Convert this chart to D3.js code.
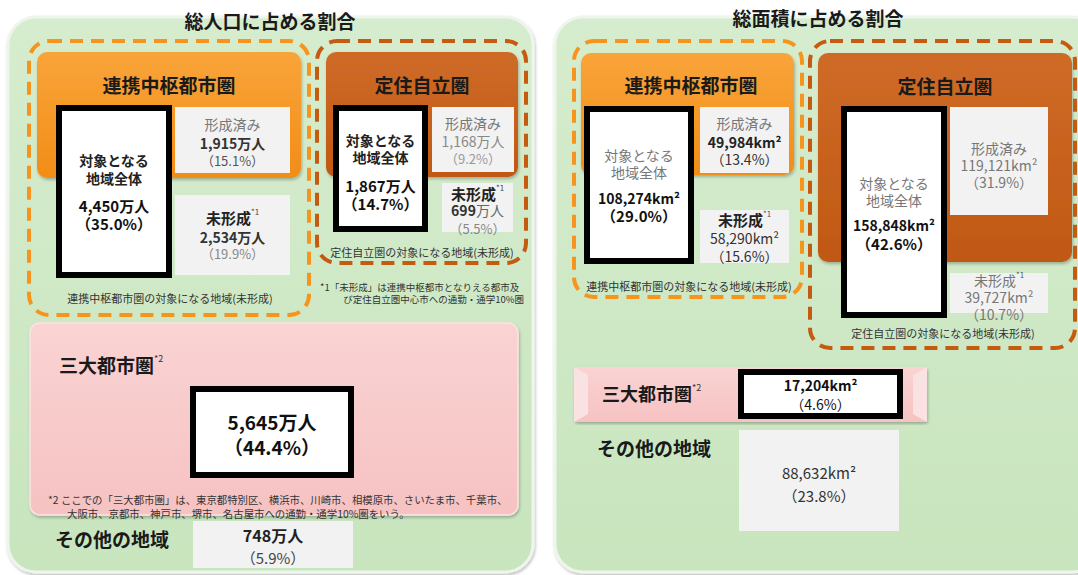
<!doctype html>
<html lang="ja">
<head>
<meta charset="utf-8" />
<title>総人口・総面積に占める割合</title>
<script src="https://cdn.jsdelivr.net/npm/d3@7"></script>
<style>
  html, body { margin: 0; padding: 0; background: #fff; }
  svg { display: block; font-family: "Noto Sans CJK JP", "Noto Sans", sans-serif; }
</style>
</head>
<body>
<div id="chart"></div>
<script>
// ---- data ----
var panelTitles = ["総人口に占める割合", "総面積に占める割合"];
var regionNames = ["連携中枢都市圏", "定住自立圏"];
// population, 万人 / %
var popTotal = [4450, 1867];
var popTotalPct = [35.0, 14.7];
var popFormed = [1915, 1168];
var popFormedPct = [15.1, 9.2];
var popUnformed = [2534, 699];
var popUnformedPct = [19.9, 5.5];
var popMetro = [5645], popMetroPct = [44.4];
var popOther = [748], popOtherPct = [5.9];
// area, km2 / %
var areaTotal = [108274, 158848];
var areaTotalPct = [29.0, 42.6];
var areaFormed = [49984, 119121];
var areaFormedPct = [13.4, 31.9];
var areaUnformed = [58290, 39727];
var areaUnformedPct = [15.6, 10.7];
var areaMetro = [17204], areaMetroPct = [4.6];
var areaOther = [88632], areaOtherPct = [23.8];

var captions = ["連携中枢都市圏の対象になる地域(未形成)", "定住自立圏の対象になる地域(未形成)"];
var note1 = ["*1「未形成」は連携中枢都市となりえる都市及", "び定住自立圏中心市への通勤・通学10%圏"];
var note2 = ["*2 ここでの「三大都市圏」は、東京都特別区、横浜市、川崎市、相模原市、さいたま市、千葉市、",
             "大阪市、京都市、神戸市、堺市、名古屋市への通勤・通学10%圏をいう。"];

var fmtN = d3.format(",");
function pct(v) { return "（" + d3.format(".1f")(v) + "%）"; }

var W = 1078, H = 575;
var svg = d3.select("#chart").append("svg").attr("width", W).attr("height", H);
var defs = svg.append("defs");

function grad(id, c1, c2) {
  var g = defs.append("linearGradient").attr("id", id).attr("x1", 0).attr("y1", 0).attr("x2", 0).attr("y2", 1);
  g.append("stop").attr("offset", "0%").attr("stop-color", c1);
  g.append("stop").attr("offset", "100%").attr("stop-color", c2);
}
grad("gPanel", "#d6ecce", "#c8e5be");
grad("gOrange", "#f9a43a", "#f28d17");
grad("gDark", "#cf6b28", "#c05813");
grad("gPink", "#fad3d3", "#f6c2c2");
var sh = defs.append("filter").attr("id", "shadow").attr("x", "-5%").attr("y", "-5%").attr("width", "110%").attr("height", "110%");
sh.append("feDropShadow").attr("dx", 1).attr("dy", 2).attr("stdDeviation", 1.5).attr("flood-color", "#000").attr("flood-opacity", 0.25);

// ---- helpers ----
function S(t, size, weight, fill, sup) { return { t: t, s: size, w: weight, c: fill, sup: sup }; }

function textLine(g, x, y, parts, anchor) {
  var t = g.append("text").attr("x", x).attr("y", y)
    .attr("text-anchor", anchor || "middle").attr("dominant-baseline", "central");
  parts.forEach(function (p) {
    var s = t.append("tspan").text(p.t).attr("font-size", p.s).attr("font-weight", p.w).attr("fill", p.c);
    if (p.sup) s.attr("dy", -6);
  });
  return t;
}

function rectBox(g, b, fill, stroke, sw, rx) {
  var inset = sw ? sw / 2 : 0;
  return g.append("rect")
    .attr("x", b.x + inset).attr("y", b.y + inset)
    .attr("width", b.w - 2 * inset).attr("height", b.h - 2 * inset)
    .attr("rx", rx || 0)
    .attr("fill", fill).attr("stroke", stroke || "none").attr("stroke-width", sw || 0);
}

function boxWithLines(g, b, lines, fill, stroke, sw) {
  rectBox(g, b, fill, stroke, sw, 0);
  var cx = b.x + b.w / 2;
  lines.forEach(function (l) { textLine(g, cx, l.y, l.parts); });
}

var ORANGE = "#f7941d", DARK = "#c55a11", GRAY = "#f2f2f2";

// ---- layouts ----
var layouts = [
  { // population panel
    panel: { x: 8, y: 17, w: 525, h: 555 }, title: { x: 270, y: 20 },
    dash: [{ x: 29, y: 41, w: 280, h: 274 }, { x: 317, y: 41, w: 209, h: 222 }],
    fill: [{ x: 37, y: 52, w: 264, h: 126 }, { x: 326, y: 52, w: 192, h: 125 }],
    head: [{ x: 169, y: 84 }, { x: 422, y: 84 }],
    white: [{ x: 56, y: 105, w: 116, h: 173, ly: [160, 178, 205, 223] },
            { x: 333, y: 105, w: 95, h: 127, ly: [140, 157, 185, 203] }],
    formed: [{ x: 175, y: 107, w: 115, h: 66, ly: [124, 143, 160] },
             { x: 432, y: 107, w: 82, h: 65, ly: [123, 141, 158] }],
    unformed: [{ x: 175, y: 195, w: 115, h: 80, ly: [217, 237, 253] },
               { x: 442, y: 183, w: 71, h: 49, ly: [193, 210, 228] }],
    cap: [{ x: 170, y: 298 }, { x: 422, y: 252 }]
  },
  { // area panel
    panel: { x: 555, y: 17, w: 545, h: 555 }, title: { x: 818, y: 17 },
    dash: [{ x: 574, y: 41, w: 228, h: 256 }, { x: 810, y: 41, w: 265, h: 307 }],
    fill: [{ x: 581, y: 53, w: 213, h: 122 }, { x: 818, y: 53, w: 254, h: 209 }],
    head: [{ x: 691, y: 84 }, { x: 945, y: 85 }],
    white: [{ x: 584, y: 106, w: 110, h: 158, ly: [155, 172, 198, 215] },
            { x: 841, y: 106, w: 106, h: 212, ly: [183, 200, 225, 243] }],
    formed: [{ x: 700, y: 107, w: 89, h: 66, ly: [123, 142, 159] },
             { x: 950, y: 107, w: 98, h: 108, ly: [148, 165, 182] }],
    unformed: [{ x: 700, y: 210, w: 89, h: 53, ly: [219, 238, 256] },
               { x: 950, y: 273, w: 98, h: 40, ly: [280, 297, 314] }],
    cap: [{ x: 689, y: 286 }, { x: 943, y: 333 }]
  }
];

// ---- panels ----
layouts.forEach(function (L, p) {
  var g = svg.append("g");
  g.append("rect").attr("x", L.panel.x).attr("y", L.panel.y).attr("width", L.panel.w).attr("height", L.panel.h)
    .attr("rx", 28).attr("fill", "url(#gPanel)").attr("stroke", "#eef5ec").attr("stroke-width", 3)
    .attr("filter", "url(#shadow)");
  textLine(g, L.title.x, L.title.y, [S(panelTitles[p], 19, 700, "#1a1a1a")]);

  [0, 1].forEach(function (i) {
    var col = i === 0 ? ORANGE : DARK;
    var f = L.fill[i];
    g.append("rect").attr("x", f.x).attr("y", f.y).attr("width", f.w).attr("height", f.h).attr("rx", 10)
      .attr("fill", i === 0 ? "url(#gOrange)" : "url(#gDark)").attr("filter", "url(#shadow)");
    textLine(g, L.head[i].x, L.head[i].y, [S(regionNames[i], 19, 700, "#1a1a1a")]);

    var d = L.dash[i];
    g.append("rect").attr("x", d.x).attr("y", d.y).attr("width", d.w).attr("height", d.h).attr("rx", 20)
      .attr("fill", "none").attr("stroke", col).attr("stroke-width", 4).attr("stroke-dasharray", "13 8");
    textLine(g, L.cap[i].x, L.cap[i].y, [S(captions[i], 11, 400, "#333")]);
  });
});

// population boxes
(function () {
  var L = layouts[0], g = svg.append("g");
  [0, 1].forEach(function (i) {
    var b = L.white[i];
    boxWithLines(g, b, [
      { y: b.ly[0], parts: [S("対象となる", 14, 700, "#222")] },
      { y: b.ly[1], parts: [S("地域全体", 14, 700, "#222")] },
      { y: b.ly[2], parts: [S(fmtN(popTotal[i]) + "万人", 15, 700, "#111")] },
      { y: b.ly[3], parts: [S(pct(popTotalPct[i]), 15, 700, "#111")] }
    ], "#fff", "#000", 6);
    var light = i === 1;
    b = L.formed[i];
    boxWithLines(g, b, [
      { y: b.ly[0], parts: [S("形成済み", 14, 400, "#777")] },
      { y: b.ly[1], parts: [S(fmtN(popFormed[i]) + "万人", 14, light ? 400 : 700, light ? "#888" : "#333")] },
      { y: b.ly[2], parts: [S(pct(popFormedPct[i]), 13, 400, light ? "#999" : "#555")] }
    ], GRAY);
    b = L.unformed[i];
    boxWithLines(g, b, [
      { y: b.ly[0], parts: [S("未形成", 15, 700, "#222"), S("*1", 8, 400, "#444", true)] },
      { y: b.ly[1], parts: light ? [S(fmtN(popUnformed[i]), 14, 700, "#333"), S("万人", 14, 400, "#666")]
                                 : [S(fmtN(popUnformed[i]) + "万人", 14, 700, "#333")] },
      { y: b.ly[2], parts: [S(pct(popUnformedPct[i]), 13, 400, "#888")] }
    ], GRAY);
  });

  textLine(g, 320, 287, [S(note1[0], 9.5, 400, "#333")], "start");
  textLine(g, 524, 299, [S(note1[1], 9.5, 400, "#333")], "end");

  // 三大都市圏
  var pk = { x: 30, y: 323, w: 488, h: 192 };
  g.append("rect").attr("x", pk.x).attr("y", pk.y).attr("width", pk.w).attr("height", pk.h).attr("rx", 10)
    .attr("fill", "url(#gPink)").attr("stroke", "#fbe3e3").attr("stroke-width", 1.5).attr("filter", "url(#shadow)");
  textLine(g, 59, 364, [S("三大都市圏", 19, 700, "#1a1a1a"), S("*2", 9, 400, "#333", true)], "start");
  var mb = { x: 190, y: 386, w: 164, h: 92 };
  rectBox(g, mb, "#fff", "#000", 6);
  textLine(g, mb.x + mb.w / 2, 421, [S(fmtN(popMetro[0]) + "万人", 19, 700, "#111")]);
  textLine(g, mb.x + mb.w / 2, 446, [S(pct(popMetroPct[0]), 19, 700, "#111")]);
  textLine(g, 48, 499, [S(note2[0], 10.4, 400, "#333")], "start");
  textLine(g, 67, 513, [S(note2[1], 10.4, 400, "#333")], "start");

  // その他の地域
  textLine(g, 55, 538, [S("その他の地域", 19, 700, "#1a1a1a")], "start");
  var ob = { x: 193, y: 521, w: 160, h: 47 };
  rectBox(g, ob, GRAY);
  textLine(g, ob.x + ob.w / 2, 535, [S(fmtN(popOther[0]) + "万人", 16, 700, "#222")]);
  textLine(g, ob.x + ob.w / 2, 557, [S(pct(popOtherPct[0]), 15, 400, "#444")]);
})();

// area boxes
(function () {
  var L = layouts[1], g = svg.append("g");
  [0, 1].forEach(function (i) {
    var b = L.white[i];
    boxWithLines(g, b, [
      { y: b.ly[0], parts: [S("対象となる", 14, 400, "#777")] },
      { y: b.ly[1], parts: [S("地域全体", 14, 400, "#777")] },
      { y: b.ly[2], parts: [S(fmtN(areaTotal[i]) + "km²", 14, 700, "#111")] },
      { y: b.ly[3], parts: [S(pct(areaTotalPct[i]), 15, 700, "#111")] }
    ], "#fff", "#000", 6);
    var light = i === 1;
    b = L.formed[i];
    boxWithLines(g, b, [
      { y: b.ly[0], parts: [S("形成済み", 14, 400, "#777")] },
      { y: b.ly[1], parts: [S(fmtN(areaFormed[i]) + "km²", 14, light ? 400 : 700, light ? "#777" : "#222")] },
      { y: b.ly[2], parts: [S(pct(areaFormedPct[i]), 14, 400, light ? "#777" : "#333")] }
    ], GRAY);
    b = L.unformed[i];
    boxWithLines(g, b, [
      { y: b.ly[0], parts: [S("未形成", light ? 14 : 15, light ? 400 : 700, light ? "#777" : "#222"),
                            S("*1", 8, 400, "#555", true)] },
      { y: b.ly[1], parts: [S(fmtN(areaUnformed[i]) + "km²", 14, 400, light ? "#777" : "#333")] },
      { y: b.ly[2], parts: [S(pct(areaUnformedPct[i]), 14, 400, light ? "#777" : "#333")] }
    ], GRAY);
  });

  // 三大都市圏 bar
  var pb = { x: 574, y: 367, w: 353, h: 55 };
  g.append("rect").attr("x", pb.x).attr("y", pb.y).attr("width", pb.w).attr("height", pb.h).attr("rx", 3)
    .attr("fill", "url(#gPink)").attr("filter", "url(#shadow)");
  g.append("path").attr("fill", "#fbe2e2")
    .attr("d", "M" + pb.x + "," + pb.y + "L" + (pb.x + 14) + "," + (pb.y + 8) + "L" + (pb.x + 14) + "," + (pb.y + pb.h - 8) + "L" + pb.x + "," + (pb.y + pb.h) + "Z");
  g.append("path").attr("fill", "#fbe2e2")
    .attr("d", "M" + (pb.x + pb.w) + "," + pb.y + "L" + (pb.x + pb.w - 14) + "," + (pb.y + 8) + "L" + (pb.x + pb.w - 14) + "," + (pb.y + pb.h - 8) + "L" + (pb.x + pb.w) + "," + (pb.y + pb.h) + "Z");
  textLine(g, 602, 393, [S("三大都市圏", 18, 700, "#1a1a1a"), S("*2", 9, 400, "#333", true)], "start");
  var mb = { x: 738, y: 369, w: 165, h: 50 };
  rectBox(g, mb, "#fff", "#000", 6);
  textLine(g, mb.x + mb.w / 2, 385, [S(fmtN(areaMetro[0]) + "km²", 14, 700, "#111")]);
  textLine(g, mb.x + mb.w / 2, 404, [S(pct(areaMetroPct[0]), 14, 400, "#111")]);

  textLine(g, 597, 447, [S("その他の地域", 19, 700, "#1a1a1a")], "start");
  var ob = { x: 739, y: 430, w: 160, h: 101 };
  rectBox(g, ob, GRAY);
  textLine(g, ob.x + ob.w / 2, 472, [S(fmtN(areaOther[0]) + "km²", 15, 400, "#333")]);
  textLine(g, ob.x + ob.w / 2, 495, [S(pct(areaOtherPct[0]), 15, 400, "#333")]);
})();
</script>
</body>
</html>
